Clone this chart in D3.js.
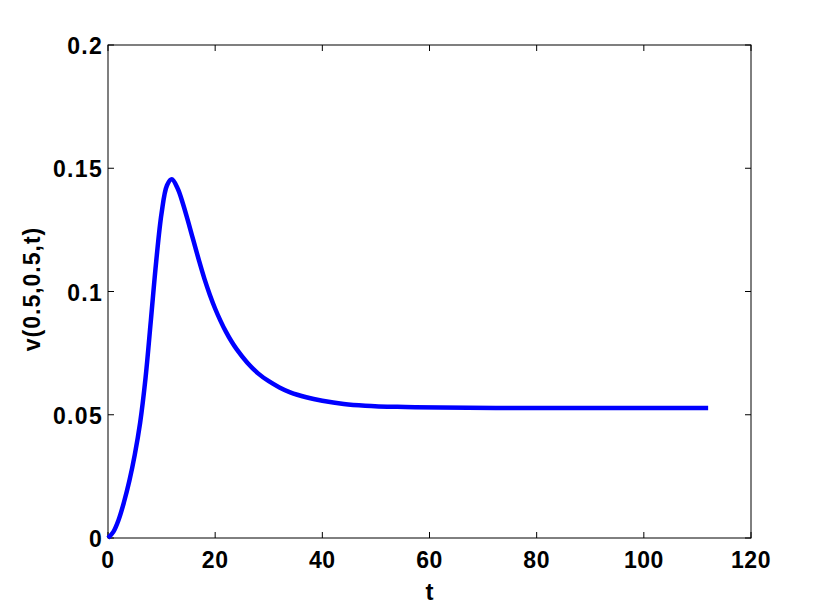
<!DOCTYPE html>
<html><head><meta charset="utf-8">
<script src="https://cdn.jsdelivr.net/npm/d3@7"></script>
<style>body{margin:0;background:#fff}svg{display:block}</style>
</head><body>
<script>
const tValues = [0,1,2,3,4,5,6,7,8,9,10,11,11.9,13,14,15,16,17,18,19,20,21,22,23,24,26,28,30,32,34,37,40,44,48,54,62,75,90,112];
const vValues = [0,0.0025,0.0075,0.0147,0.0233,0.0338,0.0468,0.0648,0.0883,0.1123,0.1318,0.1430,0.1455,0.1418,0.1355,0.1280,0.1202,0.1124,0.1051,0.0987,0.0930,0.0881,0.0837,0.0799,0.0766,0.0711,0.0668,0.0636,0.0611,0.0591,0.0571,0.0557,0.0544,0.0537,0.0532,0.0529,0.0527,0.0527,0.0527];
const xTicks = [0,20,40,60,80,100,120];
const yTicks = [0,0.05,0.1,0.15,0.2];
const yTickLabels = ["0","0.05","0.1","0.15","0.2"];
const xLabel = "t";
const yLabel = "v(0.5,0.5,t)";

const W = 830, H = 606;
const L = 108, R = 751, T = 45, B = 538;
const svg = d3.select("body").append("svg").attr("width", W).attr("height", H);
const x = d3.scaleLinear().domain([0,120]).range([L,R]);
const y = d3.scaleLinear().domain([0,0.2]).range([B,T]);
const font = "'Liberation Sans', Arial, Helvetica, sans-serif";

svg.append("rect").attr("x",L).attr("y",T).attr("width",R-L).attr("height",B-T)
  .attr("fill","#fff").attr("stroke","#000").attr("stroke-width",1);

const tl = 6;
const g = svg.append("g").attr("stroke","#000").attr("stroke-width",1);
xTicks.forEach(v => {
  g.append("line").attr("x1",x(v)).attr("x2",x(v)).attr("y1",B).attr("y2",B-tl);
  g.append("line").attr("x1",x(v)).attr("x2",x(v)).attr("y1",T).attr("y2",T+tl);
});
yTicks.forEach(v => {
  g.append("line").attr("x1",L).attr("x2",L+tl).attr("y1",y(v)).attr("y2",y(v));
  g.append("line").attr("x1",R).attr("x2",R-tl).attr("y1",y(v)).attr("y2",y(v));
});

svg.selectAll(".xt").data(xTicks).enter().append("text")
  .attr("x",d=>x(d)).attr("y",568).attr("text-anchor","middle")
  .attr("font-family",font).attr("font-weight","bold").attr("font-size",23)
  .attr("letter-spacing",0.5)
  .text(d=>d);
svg.selectAll(".yt").data(yTicks).enter().append("text")
  .attr("x",L-5).attr("y",d=>y(d)+9).attr("text-anchor","end")
  .attr("font-family",font).attr("font-weight","bold").attr("font-size",23)
  .attr("letter-spacing",1.3)
  .text((d,i)=>yTickLabels[i]);

svg.append("text").attr("x",(L+R)/2).attr("y",600).attr("text-anchor","middle")
  .attr("font-family",font).attr("font-weight","bold").attr("font-size",24).text(xLabel);
svg.append("text").attr("transform","translate(40,289) rotate(-90)")
  .attr("text-anchor","middle")
  .attr("font-family",font).attr("font-weight","bold").attr("font-size",23)
  .attr("letter-spacing",1).text(yLabel);

const data = tValues.map((t,i)=>[t,vValues[i]]);
svg.append("path").datum(data)
  .attr("fill","none").attr("stroke","#0000ff").attr("stroke-width",4.5)
  .attr("stroke-linejoin","round").attr("stroke-linecap","butt")
  .attr("d", d3.line().x(d=>x(d[0])).y(d=>y(d[1])).curve(d3.curveCatmullRom.alpha(0.5)));
</script>
</body></html>
